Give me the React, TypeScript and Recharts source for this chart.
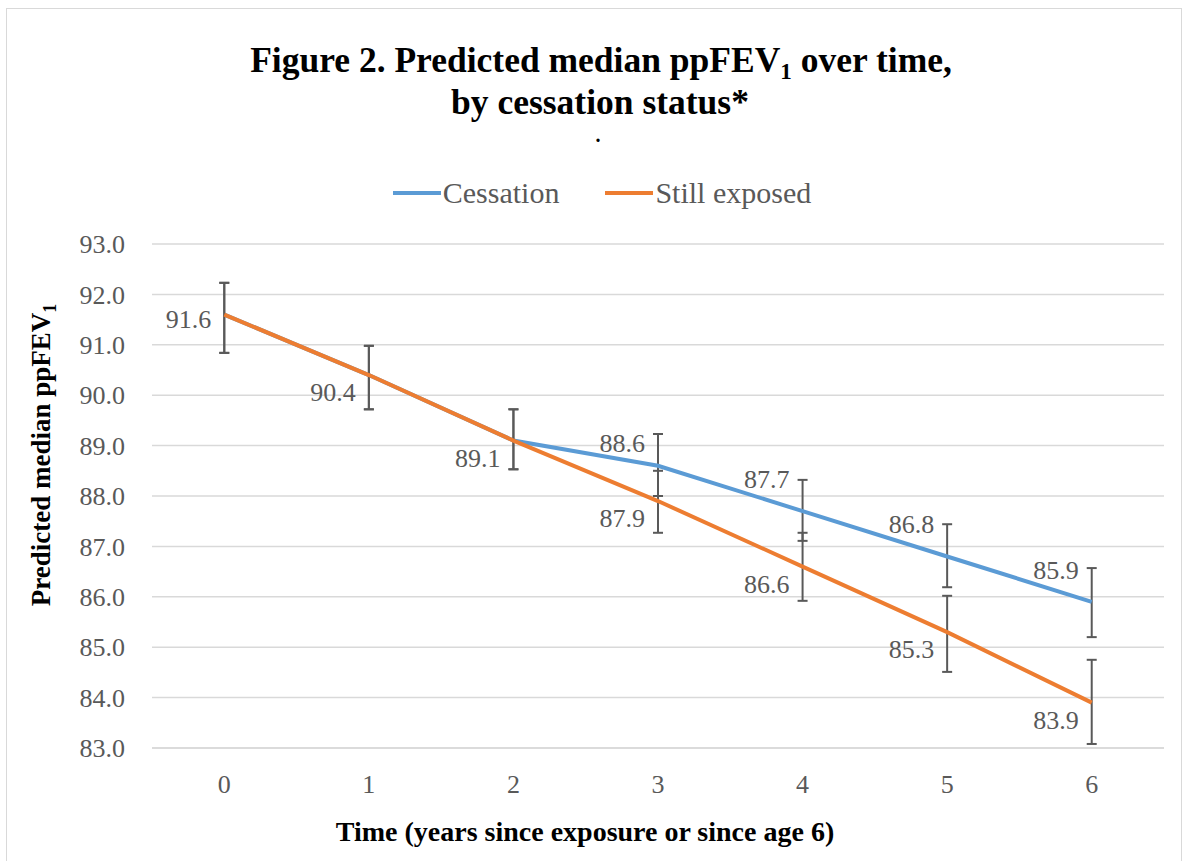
import React from 'react';
import { LineChart, Line, XAxis, YAxis, CartesianGrid, ErrorBar, LabelList, Legend } from 'recharts';

const years = [0, 1, 2, 3, 4, 5, 6];
const cessation = [91.6, 90.4, 89.1, 88.6, 87.7, 86.8, 85.9];
const stillExposed = [91.6, 90.4, 89.1, 87.9, 86.6, 85.3, 83.9];
const cessationLow = [90.84, 89.72, 88.53, 88.0, 87.11, 86.19, 85.2];
const cessationHigh = [92.23, 90.98, 89.72, 89.23, 88.32, 87.44, 86.57];
const stillLow = [90.84, 89.72, 88.53, 87.27, 85.92, 84.51, 83.08];
const stillHigh = [92.23, 90.98, 89.72, 88.5, 87.27, 86.02, 84.75];
const yTicks = [83, 84, 85, 86, 87, 88, 89, 90, 91, 92, 93];

const data = years.map((x, i) => ({
  x,
  cess: cessation[i],
  still: stillExposed[i],
  cessErr: [cessation[i] - cessationLow[i], cessationHigh[i] - cessation[i]],
  stillErr: [stillExposed[i] - stillLow[i], stillHigh[i] - stillExposed[i]],
}));

const FONT = "'Liberation Serif', Tinos, serif";
const GRAY = '#595959';
const BLUE = '#5B9BD5';
const ORANGE = '#ED7D31';

const makeLabel = (series: 'cess' | 'still') => (props: any) => {
  const { x, y, value, index } = props;
  if (series === 'cess' && index < 3) return null;
  let off: number;
  if (series === 'cess') off = index === 3 ? -23 : -32;
  else off = index === 0 ? 4 : 17;
  return (
    <text x={x - 13} y={y + off + 9} textAnchor="end" fill={GRAY} fontSize={26} fontFamily={FONT}>
      {Number(value).toFixed(1)}
    </text>
  );
};

const LegendContent = (props: any) => {
  const { payload } = props;
  return (
    <div style={{ display: 'flex', justifyContent: 'center', alignItems: 'center', paddingLeft: 18, fontFamily: FONT, fontSize: 30, color: GRAY }}>
      {(payload || []).map((p: any, i: number) => (
        <div key={i} style={{ display: 'flex', alignItems: 'center', marginLeft: i === 0 ? 0 : 46 }}>
          <div style={{ width: 48, height: 4, background: p.color, marginRight: 2 }} />
          <span>{p.value}</span>
        </div>
      ))}
    </div>
  );
};

export default function App() {
  return (
    <div style={{ position: 'fixed', left: 0, top: 0, width: 1186, height: 861, background: '#fff', overflow: 'hidden' }}>
      <div style={{ position: 'absolute', left: 6, top: 8, width: 1176, height: 870, border: '1.5px solid #d9d9d9', boxSizing: 'border-box' }} />
      <LineChart width={1186} height={861} data={data} margin={{ top: 244, right: 22, bottom: 83, left: 72 }}>
        <CartesianGrid horizontal vertical={false} stroke="#d9d9d9" strokeWidth={1.5} />
        <XAxis
          dataKey="x"
          type="number"
          domain={[-0.5, 6.5]}
          ticks={years}
          axisLine={{ stroke: '#d9d9d9', strokeWidth: 1.5 }}
          tickLine={false}
          tickSize={0}
          tickMargin={27}
          tick={{ fill: GRAY, fontSize: 26, fontFamily: FONT }}
        />
        <YAxis
          type="number"
          domain={[83, 93]}
          ticks={yTicks}
          width={80}
          axisLine={false}
          tickLine={false}
          tickSize={0}
          tickMargin={27}
          tickFormatter={(v: number) => v.toFixed(1)}
          tick={{ fill: GRAY, fontSize: 26, fontFamily: FONT }}
        />
        <Legend
          verticalAlign="middle"
          align="center"
          wrapperStyle={{ top: 176, left: 0, width: 1186 }}
          content={LegendContent}
        />
        <Line dataKey="cess" name="Cessation" stroke={BLUE} strokeWidth={4} dot={false} isAnimationActive={false}>
          <ErrorBar dataKey="cessErr" width={5} strokeWidth={2} stroke={GRAY} direction="y" />
          <LabelList dataKey="cess" content={makeLabel('cess')} />
        </Line>
        <Line dataKey="still" name="Still exposed" stroke={ORANGE} strokeWidth={4} dot={false} isAnimationActive={false}>
          <ErrorBar dataKey="stillErr" width={5} strokeWidth={2} stroke={GRAY} direction="y" />
          <LabelList dataKey="still" content={makeLabel('still')} />
        </Line>
      </LineChart>
      <svg width={1186} height={861} style={{ position: 'absolute', left: 0, top: 0, pointerEvents: 'none' }}>
        <text x={601} y={72} textAnchor="middle" fontFamily={FONT} fontWeight="bold" fontSize={35.5} fill="#000">
          Figure 2. Predicted median ppFEV<tspan fontSize={23} dy={7}>1</tspan><tspan dy={-7}> over time,</tspan>
        </text>
        <text x={600} y={114} textAnchor="middle" fontFamily={FONT} fontWeight="bold" fontSize={35.5} fill="#000">
          by cessation status*
        </text>
        <text x={598} y={142} textAnchor="middle" fontFamily={FONT} fontWeight="bold" fontSize={20} fill="#000">.</text>
        <text x={50} y={455} transform="rotate(-90 50 455)" textAnchor="middle" fontFamily={FONT} fontWeight="bold" fontSize={27} fill="#000">
          Predicted median ppFEV<tspan fontSize={18} dy={6}>1</tspan>
        </text>
        <text x={585} y={841} textAnchor="middle" fontFamily={FONT} fontWeight="bold" fontSize={28} fill="#000">
          Time (years since exposure or since age 6)
        </text>
      </svg>
    </div>
  );
}
